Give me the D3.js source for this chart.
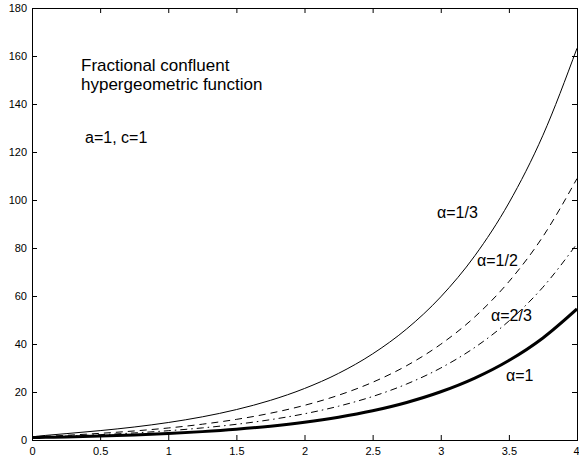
<!DOCTYPE html>
<html>
<head>
<meta charset="utf-8">
<script src="https://cdn.jsdelivr.net/npm/d3@7/dist/d3.min.js"></script>
<style>
  html, body { margin: 0; padding: 0; background: #fff; }
  svg { display: block; }
  text { font-family: "Liberation Sans", Arial, Helvetica, sans-serif; }
</style>
</head>
<body>
<svg id="chart" width="579" height="464"></svg>
<script>
// ---- data ----
const xs = [0, 0.02, 0.05, 0.1, 0.25, 0.5, 0.75, 1, 1.25, 1.5, 1.75, 2, 2.25, 2.5, 2.75, 3, 3.25, 3.5, 3.75, 4];
const alpha13 = [1, 1.411, 1.635, 1.919, 2.649, 3.907, 5.410, 7.283, 9.65, 12.67, 16.52, 21.46, 27.77, 35.89, 46.29, 59.64, 76.77, 98.76, 126.99, 163.23];
const alpha12 = [1, 1.182, 1.312, 1.487, 1.952, 2.775, 3.767, 5.009, 6.583, 8.590, 11.157, 14.442, 18.654, 24.05, 30.98, 39.89, 51.30, 65.97, 84.78, 108.94];
const alpha23 = [1, 1.086, 1.167, 1.283, 1.611, 2.209, 2.943, 3.868, 5.042, 6.543, 8.464, 10.925, 14.08, 18.13, 23.33, 30.00, 38.57, 49.56, 63.67, 81.79];
const alpha1  = [1, 1.020, 1.051, 1.105, 1.284, 1.649, 2.117, 2.718, 3.490, 4.482, 5.755, 7.389, 9.488, 12.18, 15.64, 20.09, 25.79, 33.12, 42.52, 54.60];
const xTicks = [0, 0.5, 1, 1.5, 2, 2.5, 3, 3.5, 4];
const yTicks = [0, 20, 40, 60, 80, 100, 120, 140, 160, 180];
const seriesNames = ["α=1/3", "α=1/2", "α=2/3", "α=1"];
const titleLines = ["Fractional confluent", "hypergeometric function"];
const paramText = "a=1, c=1";

// ---- layout ----
const svg = d3.select("#chart");
const L = 32, R = 577, T = 8, B = 440;
const x = d3.scaleLinear().domain([0, 4]).range([L, R]);
const y = d3.scaleLinear().domain([0, 180]).range([B, T]);

const series = [
  { name: seriesNames[0], values: alpha13, width: 1,   dash: null,        lx: 437, ly: 218 },
  { name: seriesNames[1], values: alpha12, width: 1,   dash: "7,5",       lx: 477, ly: 266 },
  { name: seriesNames[2], values: alpha23, width: 1,   dash: "7,4,1.5,4", lx: 491, ly: 321 },
  { name: seriesNames[3], values: alpha1,  width: 3,   dash: null,        lx: 506, ly: 381 }
];

svg.append("defs").append("clipPath").attr("id", "clip")
  .append("rect").attr("x", L).attr("y", T).attr("width", R - L).attr("height", B - T);

const line = d3.line()
  .x((d, i) => x(xs[i]))
  .y(d => y(d))
  .curve(d3.curveMonotoneX);

const g = svg.append("g").attr("clip-path", "url(#clip)");
series.forEach(s => {
  g.append("path")
    .attr("d", line(s.values))
    .attr("fill", "none")
    .attr("stroke", "#000")
    .attr("stroke-width", s.width)
    .attr("stroke-dasharray", s.dash);
});

// axes with inward ticks on all four sides
const fmt = d => String(d);
const xAxisG = svg.append("g").attr("transform", `translate(0,${B})`)
  .call(d3.axisBottom(x).tickValues(xTicks).tickFormat(fmt).tickSize(-5).tickSizeOuter(0).tickPadding(7));
svg.append("g").attr("transform", `translate(0,${T})`)
  .call(d3.axisTop(x).tickValues(xTicks).tickFormat("").tickSize(-5).tickSizeOuter(0));
svg.append("g").attr("transform", `translate(${L},0)`)
  .call(d3.axisLeft(y).tickValues(yTicks).tickFormat(fmt).tickSize(-5).tickSizeOuter(0).tickPadding(5));
svg.append("g").attr("transform", `translate(${R},0)`)
  .call(d3.axisRight(y).tickValues(yTicks).tickFormat("").tickSize(-5).tickSizeOuter(0));

svg.selectAll(".domain").remove();
svg.selectAll(".tick line").attr("stroke", "#000");
svg.selectAll(".tick text").attr("fill", "#000").style("font-size", "11px")
  .style("font-family", '"Liberation Sans", Arial, Helvetica, sans-serif');
// keep the last x label inside the window
xAxisG.selectAll(".tick text").filter(d => d === 4).attr("text-anchor", "end").attr("x", 2);

svg.append("rect")
  .attr("x", L).attr("y", T).attr("width", R - L).attr("height", B - T)
  .attr("fill", "none").attr("stroke", "#000").attr("stroke-width", 1)
  .attr("shape-rendering", "crispEdges");

// annotations
titleLines.forEach((t, i) => {
  svg.append("text").attr("x", 81).attr("y", 71 + i * 18.6)
    .style("font-size", "17px").attr("fill", "#000").text(t);
});
svg.append("text").attr("x", 85).attr("y", 143)
  .style("font-size", "16px").attr("fill", "#000").text(paramText);

series.forEach(s => {
  svg.append("text").attr("x", s.lx).attr("y", s.ly)
    .style("font-size", "16px").attr("fill", "#000").text(s.name);
});
</script>
</body>
</html>
